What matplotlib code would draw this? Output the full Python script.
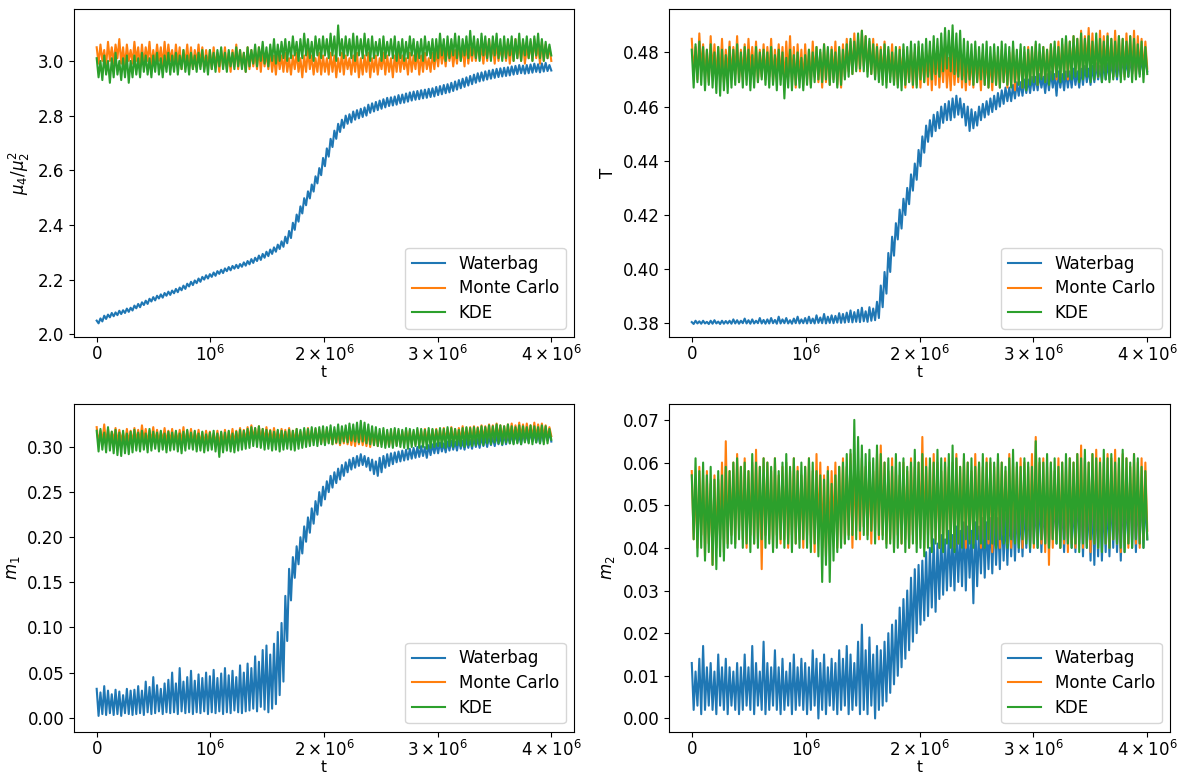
import numpy as np
import matplotlib
matplotlib.use("Agg")
import matplotlib.pyplot as plt

plt.rcParams['font.size'] = 12
plt.rcParams['xtick.major.pad'] = 2.5

# ---------------- data ----------------
# Noisy traces are given as upper / lower envelope values read every 1/30 of 10^6 in t.
t_max = 4e6
series_labels = ["Waterbag", "Monte Carlo", "KDE"]
xtick_values = [0, 1e6, 2e6, 3e6, 4e6]
xtick_labels = [r"$\mathdefault{0}$", r"$\mathdefault{10^{6}}$", r"$\mathdefault{2\times10^{6}}$",
                r"$\mathdefault{3\times10^{6}}$", r"$\mathdefault{4\times10^{6}}$"]

kurt_waterbag_hi = [
    2.050, 2.058, 2.068, 2.072, 2.078, 2.080, 2.086, 2.088, 2.094, 2.097,
    2.105, 2.111, 2.117, 2.123, 2.130, 2.136, 2.141, 2.146, 2.151, 2.156,
    2.160, 2.166, 2.171, 2.178, 2.185, 2.192, 2.197, 2.204, 2.210, 2.216,
    2.220, 2.226, 2.231, 2.236, 2.241, 2.246, 2.250, 2.254, 2.257, 2.263,
    2.268, 2.275, 2.280, 2.288, 2.294, 2.302, 2.310, 2.318, 2.328, 2.340,
    2.357, 2.378, 2.408, 2.438, 2.468, 2.498, 2.523, 2.548, 2.578, 2.608,
    2.645, 2.680, 2.715, 2.745, 2.770, 2.785, 2.800, 2.805, 2.815, 2.820,
    2.825, 2.830, 2.840, 2.845, 2.850, 2.855, 2.860, 2.865, 2.867, 2.870,
    2.875, 2.877, 2.881, 2.885, 2.888, 2.890, 2.893, 2.895, 2.898, 2.900,
    2.905, 2.908, 2.912, 2.915, 2.920, 2.925, 2.930, 2.935, 2.940, 2.945,
    2.950, 2.955, 2.958, 2.962, 2.965, 2.968, 2.971, 2.973, 2.975, 2.977,
    2.980, 2.982, 2.985, 2.983, 2.985, 2.987, 2.990, 2.988, 2.991, 2.993,
    2.985]
kurt_waterbag_lo = [
    2.040, 2.047, 2.056, 2.062, 2.066, 2.070, 2.074, 2.078, 2.082, 2.087,
    2.095, 2.099, 2.107, 2.111, 2.120, 2.124, 2.131, 2.134, 2.141, 2.144,
    2.150, 2.154, 2.161, 2.166, 2.175, 2.180, 2.187, 2.192, 2.200, 2.204,
    2.210, 2.214, 2.221, 2.224, 2.231, 2.234, 2.240, 2.242, 2.247, 2.251,
    2.256, 2.261, 2.268, 2.272, 2.280, 2.286, 2.294, 2.302, 2.312, 2.320,
    2.333, 2.352, 2.382, 2.412, 2.442, 2.472, 2.497, 2.522, 2.552, 2.582,
    2.615, 2.650, 2.685, 2.715, 2.740, 2.755, 2.770, 2.775, 2.785, 2.790,
    2.795, 2.800, 2.810, 2.815, 2.820, 2.825, 2.830, 2.835, 2.837, 2.840,
    2.845, 2.847, 2.851, 2.855, 2.858, 2.860, 2.863, 2.865, 2.868, 2.870,
    2.875, 2.878, 2.882, 2.885, 2.890, 2.895, 2.900, 2.905, 2.910, 2.915,
    2.920, 2.925, 2.928, 2.932, 2.935, 2.938, 2.941, 2.943, 2.945, 2.947,
    2.950, 2.952, 2.955, 2.953, 2.955, 2.957, 2.960, 2.958, 2.961, 2.963,
    2.965]
kurt_montecarlo_hi = [
    3.05, 3.06, 3.04, 3.07, 3.05, 3.06, 3.08, 3.05, 3.06, 3.04,
    3.07, 3.05, 3.06, 3.05, 3.07, 3.04, 3.06, 3.05, 3.07, 3.06,
    3.04, 3.06, 3.05, 3.04, 3.06, 3.05, 3.04, 3.06, 3.05, 3.04,
    3.04, 3.05, 3.03, 3.04, 3.05, 3.03, 3.04, 3.06, 3.04, 3.03,
    3.05, 3.04, 3.03, 3.05, 3.04, 3.03, 3.04, 3.02, 3.03, 3.02,
    3.03, 3.01, 3.02, 3.03, 3.01, 3.02, 3.04, 3.02, 3.01, 3.03,
    3.02, 3.01, 3.03, 3.02, 3.01, 3.03, 3.02, 3.01, 3.02, 3.03,
    3.01, 3.02, 3.03, 3.01, 3.02, 3.01, 3.03, 3.02, 3.01, 3.02,
    3.03, 3.02, 3.01, 3.03, 3.02, 3.04, 3.02, 3.03, 3.01, 3.03,
    3.04, 3.05, 3.04, 3.06, 3.05, 3.04, 3.06, 3.05, 3.07, 3.05,
    3.06, 3.07, 3.05, 3.06, 3.08, 3.06, 3.07, 3.05, 3.06, 3.07,
    3.06, 3.08, 3.06, 3.07, 3.05, 3.07, 3.08, 3.06, 3.07, 3.06,
    3.05]
kurt_montecarlo_lo = [
    2.99, 3.00, 2.98, 3.00, 2.99, 3.01, 2.99, 2.98, 3.00, 2.99,
    3.00, 2.98, 2.99, 3.00, 2.98, 2.99, 3.00, 2.98, 2.99, 3.00,
    2.98, 2.99, 2.97, 2.99, 2.98, 2.97, 2.99, 2.98, 2.97, 2.98,
    2.97, 2.98, 2.96, 2.98, 2.97, 2.96, 2.98, 2.97, 2.98, 2.96,
    2.97, 2.98, 2.97, 2.96, 2.98, 2.97, 2.96, 2.95, 2.97, 2.96,
    2.96, 2.95, 2.97, 2.96, 2.94, 2.96, 2.97, 2.95, 2.96, 2.95,
    2.96, 2.95, 2.96, 2.94, 2.96, 2.95, 2.97, 2.95, 2.96, 2.94,
    2.95, 2.96, 2.94, 2.96, 2.95, 2.97, 2.95, 2.96, 2.94, 2.96,
    2.96, 2.97, 2.95, 2.96, 2.97, 2.95, 2.96, 2.97, 2.96, 2.97,
    2.98, 2.99, 2.98, 3.00, 2.98, 2.99, 3.00, 2.98, 2.99, 3.00,
    3.00, 3.01, 2.99, 3.00, 3.01, 2.99, 3.00, 3.01, 3.00, 2.99,
    3.00, 3.01, 3.00, 2.99, 3.01, 3.00, 3.01, 2.99, 3.00, 3.01,
    3.00]
kurt_kde_hi = [
    3.01, 3.00, 3.02, 3.00, 3.01, 3.03, 3.00, 3.01, 3.02, 3.00,
    3.02, 3.01, 3.03, 3.02, 3.01, 3.02, 3.03, 3.01, 3.02, 3.03,
    3.02, 3.03, 3.02, 3.04, 3.02, 3.03, 3.02, 3.03, 3.04, 3.02,
    3.04, 3.03, 3.04, 3.05, 3.03, 3.04, 3.03, 3.05, 3.04, 3.03,
    3.05, 3.04, 3.06, 3.05, 3.07, 3.05, 3.06, 3.08, 3.06, 3.07,
    3.08, 3.07, 3.09, 3.07, 3.08, 3.10, 3.08, 3.07, 3.09, 3.08,
    3.09, 3.08, 3.10, 3.09, 3.13, 3.08, 3.09, 3.08, 3.10, 3.09,
    3.08, 3.10, 3.08, 3.09, 3.07, 3.08, 3.09, 3.07, 3.08, 3.09,
    3.07, 3.08, 3.07, 3.09, 3.08, 3.07, 3.08, 3.09, 3.07, 3.08,
    3.08, 3.10, 3.08, 3.09, 3.08, 3.10, 3.09, 3.08, 3.09, 3.11,
    3.09, 3.08, 3.10, 3.09, 3.08, 3.09, 3.10, 3.08, 3.09, 3.08,
    3.09, 3.08, 3.10, 3.08, 3.09, 3.08, 3.09, 3.10, 3.08, 3.07,
    3.06]
kurt_kde_lo = [
    2.94, 2.93, 2.95, 2.92, 2.94, 2.95, 2.93, 2.94, 2.92, 2.94,
    2.95, 2.94, 2.96, 2.95, 2.94, 2.96, 2.95, 2.94, 2.96, 2.95,
    2.96, 2.95, 2.97, 2.96, 2.95, 2.97, 2.96, 2.97, 2.96, 2.95,
    2.97, 2.96, 2.98, 2.97, 2.96, 2.98, 2.97, 2.98, 2.97, 2.96,
    2.98, 2.99, 2.98, 3.00, 2.99, 2.98, 3.00, 2.99, 3.00, 3.01,
    3.00, 3.01, 3.02, 3.00, 3.01, 3.02, 3.01, 3.00, 3.02, 3.01,
    3.02, 3.01, 3.02, 3.00, 3.02, 3.01, 3.02, 3.01, 3.00, 3.02,
    3.01, 3.02, 3.00, 3.01, 3.02, 3.00, 3.01, 3.02, 3.01, 3.00,
    3.01, 3.00, 3.01, 3.02, 3.00, 3.01, 3.00, 3.02, 3.01, 3.00,
    3.01, 3.02, 3.00, 3.01, 3.02, 3.01, 3.00, 3.02, 3.01, 3.02,
    3.01, 3.00, 3.02, 3.01, 3.00, 3.02, 3.01, 3.00, 3.01, 3.02,
    3.00, 3.01, 3.00, 3.02, 3.01, 3.00, 3.02, 3.01, 3.00, 3.01,
    3.02]

temp_waterbag_hi = [
    0.3805, 0.381, 0.3808, 0.381, 0.3806, 0.381, 0.3812, 0.3807, 0.381, 0.3809,
    0.381, 0.3815, 0.3812, 0.381, 0.3818, 0.3812, 0.3815, 0.381, 0.382, 0.3813,
    0.3815, 0.382, 0.3813, 0.3825, 0.3815, 0.382, 0.3812, 0.3818, 0.3825, 0.3815,
    0.382, 0.3825, 0.3818, 0.383, 0.3822, 0.3835, 0.3825, 0.383, 0.3828, 0.3838,
    0.3835, 0.384, 0.3848, 0.3842, 0.385, 0.3858, 0.3845, 0.386, 0.3855, 0.388,
    0.394, 0.399, 0.406, 0.412, 0.417, 0.422, 0.426, 0.430, 0.435, 0.439,
    0.444, 0.449, 0.453, 0.455, 0.457, 0.458, 0.460, 0.461, 0.462, 0.463,
    0.464, 0.463, 0.461, 0.460, 0.459, 0.458, 0.460, 0.461, 0.462, 0.463,
    0.464, 0.465, 0.466, 0.467, 0.467, 0.468, 0.469, 0.469, 0.470, 0.470,
    0.471, 0.471, 0.472, 0.471, 0.472, 0.473, 0.472, 0.473, 0.472, 0.473,
    0.473, 0.474, 0.473, 0.474, 0.475, 0.474, 0.475, 0.476, 0.475, 0.476,
    0.476, 0.477, 0.476, 0.477, 0.478, 0.477, 0.478, 0.479, 0.478, 0.478,
    0.478]
temp_waterbag_lo = [
    0.3798, 0.380, 0.3799, 0.380, 0.3798, 0.3799, 0.380, 0.3798, 0.3799, 0.380,
    0.3799, 0.380, 0.3799, 0.3801, 0.380, 0.3799, 0.380, 0.3801, 0.380, 0.3799,
    0.380, 0.3801, 0.3799, 0.380, 0.3801, 0.380, 0.3799, 0.3801, 0.380, 0.3801,
    0.380, 0.3801, 0.380, 0.3802, 0.3801, 0.380, 0.3802, 0.3801, 0.3803, 0.3802,
    0.3803, 0.3805, 0.3804, 0.3806, 0.3805, 0.3808, 0.3806, 0.381, 0.3812, 0.382,
    0.386, 0.391, 0.399, 0.405, 0.411, 0.415, 0.420, 0.424, 0.429, 0.433,
    0.438, 0.443, 0.447, 0.449, 0.451, 0.452, 0.454, 0.455, 0.455, 0.456,
    0.457, 0.456, 0.453, 0.451, 0.452, 0.453, 0.455, 0.456, 0.457, 0.458,
    0.459, 0.460, 0.461, 0.462, 0.462, 0.463, 0.464, 0.464, 0.465, 0.465,
    0.466, 0.466, 0.467, 0.465, 0.466, 0.467, 0.464, 0.467, 0.466, 0.467,
    0.467, 0.468, 0.467, 0.468, 0.469, 0.468, 0.469, 0.470, 0.469, 0.470,
    0.470, 0.471, 0.470, 0.471, 0.472, 0.471, 0.472, 0.473, 0.472, 0.472,
    0.473]
temp_montecarlo_hi = [
    0.485, 0.482, 0.487, 0.483, 0.481, 0.486, 0.483, 0.482, 0.485, 0.481,
    0.484, 0.482, 0.486, 0.481, 0.483, 0.485, 0.482, 0.484, 0.481, 0.483,
    0.482, 0.485, 0.481, 0.483, 0.482, 0.484, 0.486, 0.482, 0.483, 0.481,
    0.483, 0.481, 0.484, 0.482, 0.480, 0.483, 0.481, 0.482, 0.484, 0.481,
    0.483, 0.485, 0.484, 0.487, 0.485, 0.488, 0.486, 0.484, 0.485, 0.483,
    0.482, 0.484, 0.481, 0.483, 0.480, 0.482, 0.481, 0.479, 0.481, 0.480,
    0.482, 0.480, 0.479, 0.481, 0.480, 0.482, 0.479, 0.481, 0.478, 0.480,
    0.479, 0.481, 0.478, 0.480, 0.479, 0.481, 0.478, 0.480, 0.479, 0.478,
    0.480, 0.479, 0.481, 0.479, 0.480, 0.482, 0.479, 0.481, 0.480, 0.482,
    0.481, 0.483, 0.480, 0.482, 0.481, 0.483, 0.482, 0.484, 0.483, 0.485,
    0.484, 0.486, 0.485, 0.488, 0.486, 0.489, 0.487, 0.485, 0.488, 0.486,
    0.487, 0.485, 0.488, 0.486, 0.485, 0.487, 0.486, 0.488, 0.486, 0.485,
    0.484]
temp_montecarlo_lo = [
    0.472, 0.470, 0.473, 0.471, 0.469, 0.472, 0.470, 0.471, 0.469, 0.472,
    0.470, 0.472, 0.469, 0.471, 0.470, 0.472, 0.471, 0.469, 0.471, 0.470,
    0.471, 0.469, 0.472, 0.470, 0.468, 0.471, 0.469, 0.467, 0.470, 0.468,
    0.470, 0.468, 0.471, 0.469, 0.467, 0.469, 0.468, 0.470, 0.468, 0.467,
    0.471, 0.473, 0.472, 0.474, 0.473, 0.475, 0.473, 0.472, 0.471, 0.472,
    0.470, 0.469, 0.471, 0.469, 0.468, 0.470, 0.467, 0.469, 0.467, 0.468,
    0.467, 0.469, 0.468, 0.466, 0.468, 0.467, 0.469, 0.467, 0.466, 0.468,
    0.469, 0.467, 0.466, 0.468, 0.467, 0.469, 0.466, 0.468, 0.467, 0.466,
    0.468, 0.467, 0.469, 0.467, 0.468, 0.466, 0.469, 0.467, 0.468, 0.469,
    0.470, 0.468, 0.471, 0.469, 0.470, 0.472, 0.470, 0.471, 0.472, 0.470,
    0.472, 0.473, 0.471, 0.473, 0.474, 0.472, 0.473, 0.471, 0.472, 0.473,
    0.472, 0.471, 0.473, 0.472, 0.471, 0.473, 0.472, 0.471, 0.473, 0.472,
    0.474]
temp_kde_hi = [
    0.481, 0.483, 0.484, 0.482, 0.481, 0.483, 0.480, 0.482, 0.481, 0.479,
    0.482, 0.481, 0.483, 0.480, 0.482, 0.481, 0.479, 0.482, 0.480, 0.481,
    0.480, 0.482, 0.479, 0.481, 0.480, 0.478, 0.481, 0.479, 0.480, 0.478,
    0.479, 0.481, 0.480, 0.482, 0.481, 0.483, 0.482, 0.481, 0.480, 0.482,
    0.481, 0.483, 0.485, 0.484, 0.487, 0.488, 0.486, 0.485, 0.483, 0.482,
    0.481, 0.483, 0.482, 0.480, 0.482, 0.481, 0.483, 0.482, 0.484, 0.483,
    0.484, 0.483, 0.485, 0.484, 0.486, 0.485, 0.487, 0.489, 0.488, 0.490,
    0.487, 0.488, 0.485, 0.484, 0.483, 0.484, 0.482, 0.483, 0.484, 0.482,
    0.483, 0.482, 0.484, 0.483, 0.482, 0.484, 0.481, 0.483, 0.482, 0.481,
    0.482, 0.484, 0.483, 0.482, 0.481, 0.483, 0.484, 0.482, 0.485, 0.486,
    0.484, 0.486, 0.485, 0.487, 0.485, 0.486, 0.484, 0.487, 0.485, 0.484,
    0.486, 0.485, 0.484, 0.486, 0.485, 0.484, 0.486, 0.485, 0.483, 0.484,
    0.482]
temp_kde_lo = [
    0.467, 0.469, 0.468, 0.466, 0.468, 0.467, 0.465, 0.464, 0.466, 0.465,
    0.467, 0.468, 0.469, 0.467, 0.468, 0.466, 0.467, 0.469, 0.470, 0.468,
    0.467, 0.468, 0.466, 0.468, 0.463, 0.467, 0.466, 0.468, 0.467, 0.466,
    0.468, 0.467, 0.469, 0.470, 0.469, 0.470, 0.468, 0.469, 0.467, 0.468,
    0.470, 0.471, 0.472, 0.473, 0.474, 0.473, 0.471, 0.472, 0.470, 0.469,
    0.468, 0.467, 0.469, 0.468, 0.467, 0.466, 0.468, 0.469, 0.468, 0.467,
    0.470, 0.469, 0.471, 0.470, 0.472, 0.471, 0.473, 0.474, 0.473, 0.472,
    0.471, 0.470, 0.469, 0.470, 0.468, 0.469, 0.470, 0.468, 0.467, 0.469,
    0.468, 0.467, 0.469, 0.468, 0.467, 0.469, 0.468, 0.467, 0.466, 0.468,
    0.469, 0.468, 0.470, 0.469, 0.468, 0.470, 0.471, 0.469, 0.470, 0.471,
    0.470, 0.471, 0.469, 0.470, 0.471, 0.469, 0.470, 0.471, 0.469, 0.470,
    0.469, 0.470, 0.471, 0.469, 0.470, 0.471, 0.469, 0.470, 0.471, 0.469,
    0.472]

m1_waterbag_hi = [
    0.032, 0.028, 0.035, 0.030, 0.026, 0.031, 0.029, 0.025, 0.032, 0.030,
    0.031, 0.035, 0.030, 0.040, 0.034, 0.045, 0.036, 0.032, 0.038, 0.042,
    0.050, 0.038, 0.055, 0.040, 0.045, 0.052, 0.041, 0.048, 0.044, 0.050,
    0.046, 0.053, 0.044, 0.049, 0.055, 0.047, 0.052, 0.045, 0.058, 0.050,
    0.060, 0.055, 0.068, 0.062, 0.075, 0.080, 0.070, 0.082, 0.095, 0.105,
    0.135, 0.165, 0.178, 0.190, 0.200, 0.212, 0.222, 0.232, 0.240, 0.250,
    0.256, 0.262, 0.268, 0.272, 0.276, 0.280, 0.283, 0.286, 0.288, 0.290,
    0.292, 0.290, 0.288, 0.286, 0.284, 0.288, 0.290, 0.292, 0.293, 0.294,
    0.295, 0.296, 0.297, 0.298, 0.299, 0.300, 0.301, 0.300, 0.302, 0.303,
    0.304, 0.305, 0.304, 0.306, 0.307, 0.306, 0.308, 0.307, 0.309, 0.308,
    0.310, 0.309, 0.311, 0.310, 0.312, 0.311, 0.313, 0.312, 0.314, 0.313,
    0.314, 0.315, 0.313, 0.316, 0.315, 0.317, 0.316, 0.315, 0.317, 0.318,
    0.316]
m1_waterbag_lo = [
    0.002, 0.004, 0.003, 0.005, 0.003, 0.004, 0.002, 0.005, 0.004, 0.003,
    0.004, 0.005, 0.003, 0.006, 0.004, 0.005, 0.007, 0.004, 0.006, 0.005,
    0.006, 0.004, 0.007, 0.005, 0.006, 0.004, 0.006, 0.005, 0.007, 0.004,
    0.006, 0.005, 0.007, 0.004, 0.006, 0.005, 0.008, 0.006, 0.005, 0.007,
    0.008, 0.010, 0.007, 0.012, 0.009, 0.006, 0.010, 0.015, 0.025, 0.040,
    0.085, 0.130, 0.155, 0.170, 0.182, 0.195, 0.205, 0.215, 0.225, 0.235,
    0.242, 0.250, 0.255, 0.260, 0.264, 0.268, 0.272, 0.275, 0.277, 0.279,
    0.280, 0.278, 0.274, 0.270, 0.268, 0.272, 0.277, 0.279, 0.281, 0.283,
    0.284, 0.285, 0.286, 0.287, 0.288, 0.289, 0.290, 0.288, 0.291, 0.293,
    0.293, 0.295, 0.294, 0.296, 0.297, 0.296, 0.298, 0.297, 0.299, 0.298,
    0.300, 0.299, 0.301, 0.300, 0.302, 0.301, 0.303, 0.302, 0.303, 0.304,
    0.304, 0.305, 0.303, 0.306, 0.305, 0.306, 0.305, 0.304, 0.306, 0.307,
    0.306]
m1_montecarlo_hi = [
    0.322, 0.318, 0.325, 0.320, 0.317, 0.321, 0.319, 0.316, 0.320, 0.318,
    0.321, 0.319, 0.324, 0.320, 0.318, 0.322, 0.319, 0.317, 0.321, 0.318,
    0.320, 0.317, 0.319, 0.322, 0.318, 0.320, 0.317, 0.319, 0.316, 0.318,
    0.317, 0.315, 0.318, 0.316, 0.319, 0.317, 0.320, 0.318, 0.321, 0.319,
    0.322, 0.324, 0.321, 0.323, 0.320, 0.322, 0.319, 0.321, 0.318, 0.320,
    0.319, 0.321, 0.318, 0.320, 0.317, 0.319, 0.321, 0.318, 0.320, 0.319,
    0.318, 0.320, 0.317, 0.319, 0.316, 0.318, 0.320, 0.317, 0.316, 0.318,
    0.317, 0.315, 0.318, 0.316, 0.317, 0.315, 0.318, 0.316, 0.317, 0.319,
    0.318, 0.317, 0.319, 0.318, 0.317, 0.319, 0.318, 0.320, 0.318, 0.319,
    0.320, 0.319, 0.321, 0.320, 0.322, 0.320, 0.321, 0.323, 0.321, 0.322,
    0.323, 0.322, 0.324, 0.323, 0.325, 0.324, 0.326, 0.324, 0.323, 0.325,
    0.326, 0.324, 0.327, 0.325, 0.326, 0.324, 0.327, 0.325, 0.326, 0.324,
    0.322]
m1_montecarlo_lo = [
    0.304, 0.306, 0.303, 0.305, 0.307, 0.304, 0.306, 0.303, 0.305, 0.304,
    0.306, 0.305, 0.307, 0.304, 0.306, 0.303, 0.305, 0.306, 0.304, 0.305,
    0.303, 0.305, 0.304, 0.302, 0.304, 0.303, 0.305, 0.302, 0.303, 0.304,
    0.302, 0.303, 0.301, 0.303, 0.302, 0.304, 0.303, 0.305, 0.304, 0.306,
    0.307, 0.308, 0.306, 0.308, 0.307, 0.306, 0.305, 0.307, 0.306, 0.305,
    0.305, 0.304, 0.306, 0.305, 0.303, 0.305, 0.304, 0.306, 0.305, 0.304,
    0.304, 0.305, 0.303, 0.304, 0.302, 0.304, 0.303, 0.302, 0.301, 0.303,
    0.302, 0.301, 0.300, 0.302, 0.301, 0.303, 0.302, 0.301, 0.303, 0.302,
    0.304, 0.303, 0.305, 0.304, 0.303, 0.305, 0.304, 0.306, 0.304, 0.305,
    0.306, 0.305, 0.307, 0.306, 0.305, 0.307, 0.306, 0.308, 0.307, 0.306,
    0.308, 0.309, 0.308, 0.310, 0.309, 0.308, 0.310, 0.309, 0.308, 0.310,
    0.309, 0.311, 0.310, 0.309, 0.311, 0.310, 0.309, 0.311, 0.310, 0.309,
    0.312]
m1_kde_hi = [
    0.318, 0.320, 0.316, 0.322, 0.317, 0.319, 0.316, 0.318, 0.315, 0.317,
    0.319, 0.316, 0.318, 0.315, 0.320, 0.317, 0.316, 0.318, 0.315, 0.317,
    0.316, 0.318, 0.315, 0.317, 0.319, 0.316, 0.318, 0.315, 0.317, 0.314,
    0.316, 0.318, 0.315, 0.317, 0.316, 0.318, 0.315, 0.317, 0.319, 0.318,
    0.320, 0.322, 0.321, 0.323, 0.320, 0.319, 0.318, 0.317, 0.319, 0.318,
    0.317, 0.319, 0.318, 0.320, 0.319, 0.321, 0.320, 0.322, 0.321, 0.322,
    0.323, 0.322, 0.324, 0.322, 0.325, 0.323, 0.324, 0.326, 0.325, 0.327,
    0.329, 0.327, 0.325, 0.323, 0.322, 0.320, 0.321, 0.319, 0.320, 0.321,
    0.320, 0.319, 0.321, 0.320, 0.319, 0.321, 0.320, 0.319, 0.321, 0.320,
    0.319, 0.321, 0.320, 0.322, 0.321, 0.320, 0.319, 0.321, 0.322, 0.321,
    0.322, 0.321, 0.323, 0.322, 0.324, 0.323, 0.325, 0.324, 0.323, 0.325,
    0.323, 0.322, 0.324, 0.323, 0.322, 0.324, 0.323, 0.322, 0.324, 0.323,
    0.320]
m1_kde_lo = [
    0.295, 0.297, 0.294, 0.296, 0.293, 0.291, 0.290, 0.293, 0.292, 0.294,
    0.296, 0.295, 0.297, 0.294, 0.296, 0.298, 0.295, 0.297, 0.294, 0.296,
    0.297, 0.295, 0.293, 0.296, 0.298, 0.297, 0.295, 0.296, 0.294, 0.296,
    0.297, 0.295, 0.289, 0.294, 0.296, 0.295, 0.294, 0.296, 0.297, 0.298,
    0.299, 0.301, 0.300, 0.299, 0.297, 0.298, 0.296, 0.297, 0.295, 0.297,
    0.298, 0.297, 0.296, 0.298, 0.299, 0.300, 0.301, 0.302, 0.301, 0.303,
    0.302, 0.304, 0.303, 0.305, 0.304, 0.306, 0.305, 0.307, 0.306, 0.305,
    0.306, 0.304, 0.303, 0.302, 0.301, 0.300, 0.299, 0.300, 0.299, 0.301,
    0.300, 0.299, 0.298, 0.300, 0.301, 0.299, 0.300, 0.298, 0.299, 0.300,
    0.301, 0.300, 0.299, 0.301, 0.300, 0.302, 0.301, 0.300, 0.302, 0.301,
    0.302, 0.303, 0.302, 0.304, 0.303, 0.305, 0.304, 0.303, 0.305, 0.304,
    0.303, 0.304, 0.303, 0.305, 0.304, 0.303, 0.305, 0.304, 0.303, 0.304,
    0.308]

m2_waterbag_hi = [
    0.013, 0.011, 0.014, 0.017, 0.012, 0.013, 0.011, 0.015, 0.012, 0.014,
    0.012, 0.011, 0.013, 0.012, 0.015, 0.012, 0.017, 0.013, 0.011, 0.018,
    0.013, 0.012, 0.016, 0.012, 0.014, 0.011, 0.013, 0.015, 0.012, 0.014,
    0.013, 0.012, 0.016, 0.014, 0.013, 0.015, 0.012, 0.014, 0.013, 0.016,
    0.014, 0.017, 0.015, 0.013, 0.018, 0.022, 0.016, 0.019, 0.015, 0.017,
    0.016, 0.018, 0.020, 0.022, 0.023, 0.026, 0.028, 0.030, 0.033, 0.035,
    0.036, 0.037, 0.039, 0.040, 0.042, 0.041, 0.043, 0.042, 0.044, 0.043,
    0.045, 0.044, 0.046, 0.045, 0.044, 0.046, 0.045, 0.047, 0.046, 0.047,
    0.048, 0.047, 0.049, 0.048, 0.050, 0.049, 0.050, 0.049, 0.051, 0.050,
    0.052, 0.051, 0.053, 0.051, 0.052, 0.054, 0.052, 0.053, 0.051, 0.052,
    0.053, 0.052, 0.054, 0.052, 0.053, 0.051, 0.052, 0.053, 0.052, 0.051,
    0.052, 0.054, 0.053, 0.052, 0.054, 0.053, 0.055, 0.053, 0.052, 0.054,
    0.052]
m2_waterbag_lo = [
    0.002, 0.003, 0.001, 0.002, 0.003, 0.002, 0.001, 0.003, 0.002, 0.001,
    0.003, 0.002, 0.001, 0.002, 0.003, 0.002, 0.001, 0.003, 0.002, 0.001,
    0.002, 0.003, 0.002, 0.001, 0.002, 0.003, 0.001, 0.002, 0.003, 0.002,
    0.001, 0.002, 0.003, 0.000, 0.002, 0.001, 0.003, 0.002, 0.001, 0.002,
    0.003, 0.001, 0.002, 0.003, 0.001, 0.002, 0.001, 0.003, 0.000, 0.002,
    0.003, 0.004, 0.006, 0.008, 0.010, 0.012, 0.014, 0.016, 0.018, 0.020,
    0.022, 0.023, 0.024, 0.026, 0.025, 0.028, 0.029, 0.030, 0.031, 0.030,
    0.032, 0.031, 0.030, 0.033, 0.027, 0.031, 0.034, 0.033, 0.035, 0.034,
    0.036, 0.035, 0.037, 0.036, 0.038, 0.037, 0.039, 0.038, 0.040, 0.039,
    0.041, 0.040, 0.039, 0.041, 0.040, 0.042, 0.041, 0.040, 0.039, 0.041,
    0.040, 0.039, 0.041, 0.038, 0.040, 0.037, 0.036, 0.038, 0.037, 0.039,
    0.038, 0.040, 0.039, 0.037, 0.039, 0.041, 0.040, 0.039, 0.041, 0.040,
    0.042]
m2_montecarlo_hi = [
    0.058, 0.056, 0.059, 0.057, 0.058, 0.055, 0.057, 0.056, 0.060, 0.065,
    0.058, 0.060, 0.062, 0.059, 0.061, 0.058, 0.060, 0.063, 0.059, 0.061,
    0.060, 0.058, 0.061, 0.057, 0.059, 0.060, 0.058, 0.061, 0.059, 0.057,
    0.059, 0.061, 0.058, 0.062, 0.060, 0.057, 0.059, 0.058, 0.060, 0.059,
    0.061, 0.059, 0.062, 0.060, 0.058, 0.061, 0.059, 0.060, 0.058, 0.062,
    0.064, 0.060, 0.058, 0.061, 0.059, 0.057, 0.060, 0.058, 0.061, 0.059,
    0.060, 0.066, 0.061, 0.059, 0.062, 0.060, 0.058, 0.061, 0.059, 0.060,
    0.062, 0.059, 0.061, 0.060, 0.058, 0.062, 0.060, 0.059, 0.061, 0.060,
    0.059, 0.061, 0.060, 0.058, 0.062, 0.060, 0.059, 0.061, 0.060, 0.059,
    0.062, 0.066, 0.060, 0.061, 0.059, 0.060, 0.058, 0.061, 0.060, 0.059,
    0.061, 0.060, 0.062, 0.064, 0.061, 0.060, 0.062, 0.063, 0.061, 0.060,
    0.062, 0.061, 0.063, 0.060, 0.062, 0.061, 0.059, 0.062, 0.060, 0.061,
    0.060]
m2_montecarlo_lo = [
    0.042, 0.040, 0.043, 0.038, 0.041, 0.036, 0.040, 0.042, 0.039, 0.041,
    0.043, 0.041, 0.044, 0.042, 0.040, 0.043, 0.041, 0.042, 0.035, 0.043,
    0.042, 0.040, 0.043, 0.041, 0.042, 0.040, 0.043, 0.041, 0.042, 0.040,
    0.043, 0.041, 0.039, 0.042, 0.040, 0.038, 0.041, 0.043, 0.040, 0.042,
    0.041, 0.043, 0.040, 0.044, 0.042, 0.045, 0.043, 0.041, 0.044, 0.042,
    0.043, 0.041, 0.042, 0.040, 0.043, 0.041, 0.042, 0.040, 0.043, 0.041,
    0.042, 0.040, 0.043, 0.041, 0.042, 0.040, 0.041, 0.043, 0.042, 0.040,
    0.041, 0.043, 0.040, 0.042, 0.041, 0.043, 0.040, 0.042, 0.041, 0.039,
    0.042, 0.040, 0.043, 0.041, 0.040, 0.042, 0.041, 0.040, 0.042, 0.041,
    0.040, 0.042, 0.041, 0.039, 0.036, 0.040, 0.042, 0.040, 0.041, 0.039,
    0.041, 0.040, 0.042, 0.040, 0.041, 0.039, 0.041, 0.040, 0.042, 0.041,
    0.040, 0.042, 0.041, 0.039, 0.041, 0.040, 0.042, 0.041, 0.040, 0.042,
    0.044]
m2_kde_hi = [
    0.057, 0.061, 0.058, 0.060, 0.057, 0.059, 0.056, 0.058, 0.057, 0.059,
    0.058, 0.060, 0.061, 0.059, 0.060, 0.058, 0.062, 0.060, 0.059, 0.061,
    0.060, 0.059, 0.061, 0.058, 0.060, 0.062, 0.059, 0.061, 0.058, 0.060,
    0.059, 0.061, 0.060, 0.058, 0.057, 0.056, 0.058, 0.055, 0.057, 0.059,
    0.060, 0.062, 0.063, 0.070, 0.066, 0.064, 0.062, 0.063, 0.061, 0.064,
    0.062, 0.060, 0.061, 0.059, 0.062, 0.060, 0.061, 0.059, 0.060, 0.063,
    0.060, 0.062, 0.059, 0.061, 0.060, 0.063, 0.061, 0.060, 0.062, 0.064,
    0.061, 0.059, 0.062, 0.060, 0.061, 0.059, 0.060, 0.062, 0.060, 0.061,
    0.060, 0.062, 0.060, 0.059, 0.061, 0.063, 0.060, 0.059, 0.061, 0.060,
    0.059, 0.065, 0.061, 0.060, 0.062, 0.060, 0.061, 0.059, 0.060, 0.062,
    0.061, 0.060, 0.062, 0.061, 0.063, 0.060, 0.062, 0.061, 0.060, 0.063,
    0.061, 0.062, 0.060, 0.061, 0.063, 0.061, 0.060, 0.062, 0.061, 0.059,
    0.058]
m2_kde_lo = [
    0.042, 0.038, 0.040, 0.037, 0.039, 0.036, 0.035, 0.038, 0.037, 0.040,
    0.041, 0.040, 0.042, 0.040, 0.041, 0.039, 0.041, 0.040, 0.042, 0.040,
    0.041, 0.039, 0.040, 0.042, 0.040, 0.041, 0.039, 0.041, 0.040, 0.042,
    0.040, 0.039, 0.041, 0.038, 0.032, 0.036, 0.032, 0.037, 0.039, 0.040,
    0.041, 0.042, 0.043, 0.042, 0.044, 0.043, 0.042, 0.044, 0.041, 0.043,
    0.042, 0.040, 0.041, 0.039, 0.040, 0.041, 0.039, 0.040, 0.041, 0.039,
    0.040, 0.038, 0.040, 0.039, 0.041, 0.040, 0.039, 0.041, 0.040, 0.039,
    0.041, 0.040, 0.042, 0.041, 0.040, 0.042, 0.041, 0.040, 0.042, 0.041,
    0.040, 0.042, 0.041, 0.040, 0.042, 0.041, 0.040, 0.042, 0.041, 0.040,
    0.041, 0.040, 0.042, 0.041, 0.040, 0.042, 0.041, 0.040, 0.042, 0.041,
    0.040, 0.041, 0.039, 0.041, 0.040, 0.042, 0.041, 0.040, 0.039, 0.041,
    0.040, 0.042, 0.041, 0.040, 0.039, 0.041, 0.040, 0.042, 0.041, 0.040,
    0.042]

panels = [
    (r"$\mu_4/\mu_2^2$",
     ((kurt_waterbag_hi, kurt_waterbag_lo), (kurt_montecarlo_hi, kurt_montecarlo_lo), (kurt_kde_hi, kurt_kde_lo)),
     (1.99, 3.19), [2.0, 2.2, 2.4, 2.6, 2.8, 3.0], "{:.1f}"),
    ("T",
     ((temp_waterbag_hi, temp_waterbag_lo), (temp_montecarlo_hi, temp_montecarlo_lo), (temp_kde_hi, temp_kde_lo)),
     (0.375, 0.496), [0.38, 0.40, 0.42, 0.44, 0.46, 0.48], "{:.2f}"),
    (r"$m_1$",
     ((m1_waterbag_hi, m1_waterbag_lo), (m1_montecarlo_hi, m1_montecarlo_lo), (m1_kde_hi, m1_kde_lo)),
     (-0.0155, 0.348), [0.0, 0.05, 0.10, 0.15, 0.20, 0.25, 0.30], "{:.2f}"),
    (r"$m_2$",
     ((m2_waterbag_hi, m2_waterbag_lo), (m2_montecarlo_hi, m2_montecarlo_lo), (m2_kde_hi, m2_kde_lo)),
     (-0.0031, 0.0738), [0.0, 0.01, 0.02, 0.03, 0.04, 0.05, 0.06, 0.07], "{:.2f}"),
]

# ---------------- figure ----------------
fig = plt.figure(figsize=(11.87, 7.76), dpi=100)
positions = [
    [0.0623, 0.5657, 0.4213, 0.4227],
    [0.5636, 0.5657, 0.4221, 0.4227],
    [0.0623, 0.0571, 0.4213, 0.4227],
    [0.5636, 0.0571, 0.4221, 0.4227],
]
colors = ["#1f77b4", "#ff7f0e", "#2ca02c"]


def trace(data):
    """Return (t, y) for an (upper, lower) envelope pair, alternating between the two."""
    hi, lo = np.asarray(data[0]), np.asarray(data[1])
    y = np.column_stack([hi, lo]).ravel()
    return np.linspace(0, t_max, len(y)), y


for pos, (ylabel, series, ylim, yticks, fmt) in zip(positions, panels):
    ax = fig.add_axes(pos)
    for data, lab, col in zip(series, series_labels, colors):
        t, y = trace(data)
        ax.plot(t, y, color=col, label=lab, lw=1.5)
    ax.set_xlim(-0.2e6, 4.2e6)
    ax.set_ylim(*ylim)
    ax.set_xticks(xtick_values)
    ax.set_xticklabels(xtick_labels)
    ax.set_yticks(yticks)
    ax.set_yticklabels([fmt.format(v) for v in yticks])
    ax.set_xlabel("t", labelpad=0, fontsize=11)
    ax.set_ylabel(ylabel)
    ax.legend(loc="lower right", labelspacing=0.4)

fig.savefig("out.png", dpi=100)
